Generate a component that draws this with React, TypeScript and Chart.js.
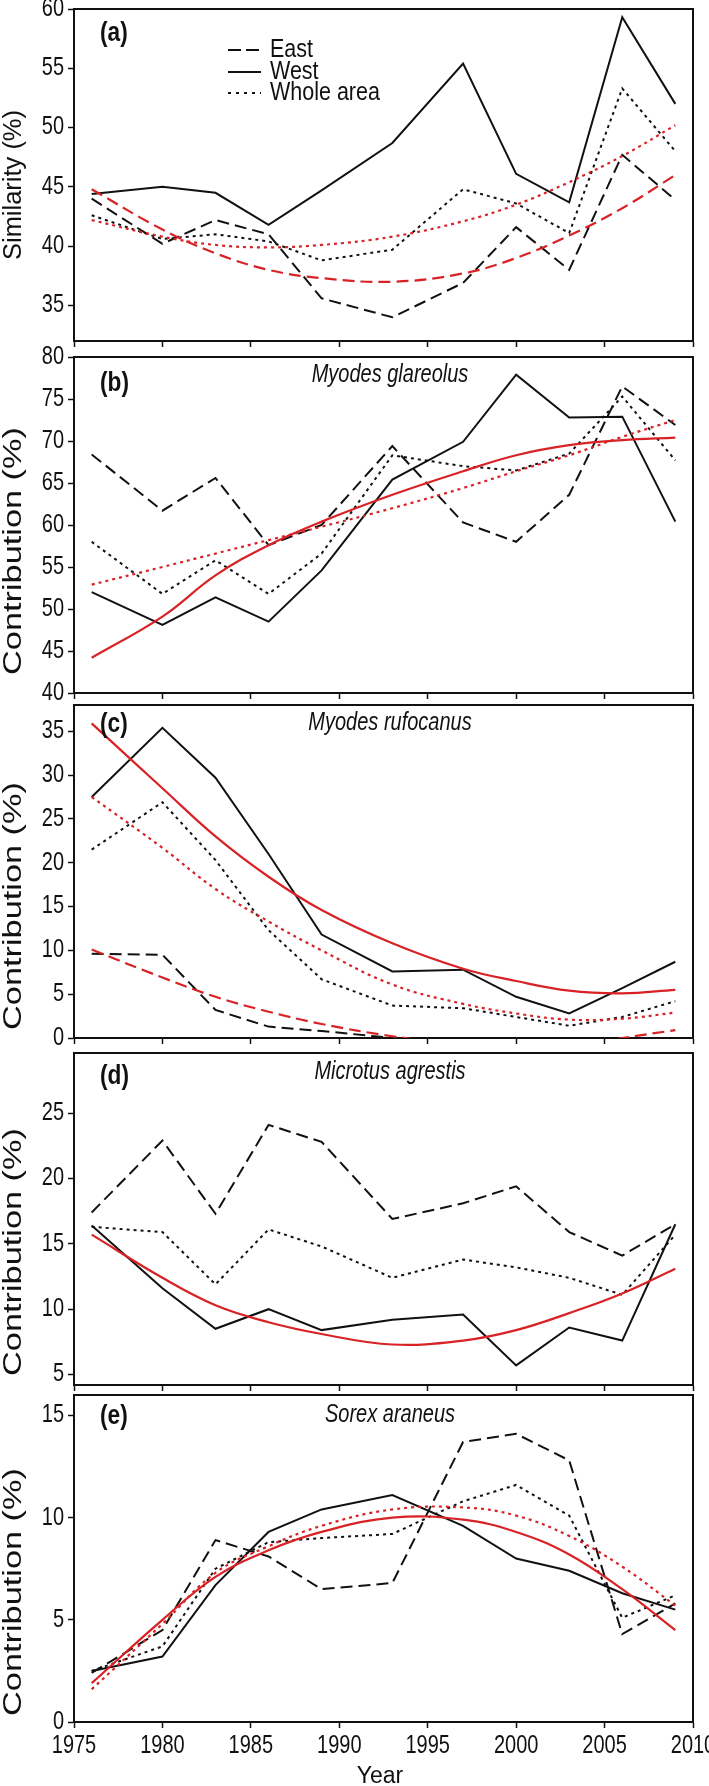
import React, { useEffect, useRef } from 'react';
import { Chart, registerables } from 'chart.js';

Chart.register(...registerables);

const FONT = '"Liberation Sans", Arial, Helvetica, sans-serif';
const BLACK = '#111111';
const RED = 'rgb(216,34,38)';
const NARROW_X = 0.8; // horizontal squeeze to imitate a narrow (condensed) face

// ---------- data ----------
const years = [1976, 1980, 1983, 1986, 1989, 1993, 1997, 2000, 2003, 2006, 2009];
const xTicks = [1975, 1980, 1985, 1990, 1995, 2000, 2005, 2010];

// (a) Similarity
const aEast = [44.0, 40.2, 42.2, 41.0, 35.6, 34.0, 36.9, 41.6, 38.0, 47.7, 43.9];
const aWest = [44.4, 45.0, 44.5, 41.8, 44.7, 48.7, 55.4, 46.1, 43.7, 59.3, 52.0];
const aWhole = [42.6, 40.6, 41.0, 40.4, 38.8, 39.7, 44.8, 43.6, 41.1, 53.3, 48.0];
const aEastFit = [44.8, 41.4, 39.4, 38.0, 37.3, 37.0, 37.7, 39.0, 40.9, 43.2, 46.0];
const aWholeFit = [42.2, 40.8, 40.1, 39.9, 40.1, 40.8, 42.1, 43.5, 45.4, 47.6, 50.2];
const aTicks = [35, 40, 45, 50, 55, 60];

// (b) Myodes glareolus
const bEast = [68.4, 61.7, 65.6, 57.6, 60.0, 69.4, 60.3, 58.0, 63.6, 76.5, 71.9];
const bWest = [52.0, 48.1, 51.4, 48.5, 54.6, 65.4, 69.9, 77.9, 72.8, 72.9, 60.4];
const bWhole = [58.0, 51.8, 55.8, 51.8, 56.6, 68.3, 67.0, 66.5, 68.5, 75.3, 67.7];
const bWestFit = [44.2, 49.1, 54.0, 57.6, 60.4, 63.6, 66.4, 68.3, 69.5, 70.1, 70.4];
const bWholeFit = [52.9, 55.0, 56.6, 58.2, 59.8, 62.0, 64.4, 66.4, 68.3, 70.5, 72.5];
const bTicks = [40, 45, 50, 55, 60, 65, 70, 75, 80];

// (c) Myodes rufocanus
const cEast = [9.6, 9.5, 3.2, 1.3, 0.8, 0, 0, 0, 0, 0, 0];
const cWest = [27.5, 35.4, 29.7, 21.0, 11.8, 7.6, 7.8, 4.7, 2.8, 5.7, 8.7];
const cWhole = [21.5, 26.9, 20.3, 12.3, 6.7, 3.7, 3.4, 2.4, 1.4, 2.4, 4.2];
const cEastFit = [10.1, 6.9, 4.7, 3.0, 1.6, 0.2, -0.8, -1.2, -1.0, 0.0, 0.9];
const cWestFit = [35.9, 28.5, 23.0, 18.4, 14.6, 10.8, 7.9, 6.5, 5.4, 5.1, 5.5];
const cWholeFit = [27.5, 21.7, 17.0, 13.3, 10.0, 6.1, 3.9, 2.8, 2.1, 2.2, 2.9];
const cTicks = [0, 5, 10, 15, 20, 25, 30, 35];

// (d) Microtus agrestis
const dEast = [17.4, 22.9, 17.3, 24.1, 22.8, 16.9, 18.1, 19.4, 15.9, 14.1, 16.5];
const dWest = [16.4, 11.6, 8.5, 10.0, 8.4, 9.2, 9.6, 5.7, 8.6, 7.6, 16.5];
const dWhole = [16.3, 15.9, 11.9, 16.1, 14.8, 12.4, 13.8, 13.2, 12.4, 11.1, 15.7];
const dWestFit = [15.7, 12.4, 10.3, 9.0, 8.1, 7.3, 7.6, 8.4, 9.7, 11.2, 13.1];
const dTicks = [5, 10, 15, 20, 25];

// (e) Sorex araneus
const eEast = [2.4, 4.5, 8.9, 8.1, 6.5, 6.8, 13.7, 14.1, 12.8, 4.3, 5.8];
const eWest = [2.5, 3.2, 6.7, 9.3, 10.4, 11.1, 9.6, 8.0, 7.4, 6.3, 5.5];
const eWhole = [2.5, 3.7, 7.5, 8.8, 9.0, 9.2, 10.8, 11.6, 10.1, 5.1, 6.2];
const eWestFit = [1.9, 5.0, 7.1, 8.4, 9.3, 10.0, 9.9, 9.3, 8.2, 6.5, 4.5];
const eWholeFit = [1.6, 4.8, 7.3, 8.6, 9.6, 10.4, 10.5, 10.1, 9.1, 7.6, 5.7];
const eTicks = [0, 5, 10, 15];

const legendLabels = ['East', 'West', 'Whole area'];

// ---------- styling / layout ----------
type LineStyle = 'solid' | 'dashed' | 'dotted';
const DASH: Record<LineStyle, number[]> = { solid: [], dashed: [12, 6], dotted: [3, 4] };

interface SeriesDef { values: number[]; color: string; style: LineStyle; fit: boolean; }
interface PanelDef {
  letter: string; species: string; yTitle: string; titleLen: number; titleY: number;
  letterY: number; speciesY: number; top: number; bottom: number;
  yMin: number; yMax: number; yTicks: number[]; series: SeriesDef[]; legend?: boolean;
}

const W = 709;
const AX_LEFT = 74;
const AX_RIGHT = 693;
const TICK_LEN = 6;

const S = (values: number[], style: LineStyle, fit = false): SeriesDef => ({
  values, style, fit, color: fit ? RED : BLACK,
});

const panels: PanelDef[] = [
  {
    letter: '(a)', species: '', yTitle: 'Similarity (%)', titleLen: 150, titleY: 185,
    letterY: 34, speciesY: 0, top: 9, bottom: 341, yMin: 32, yMax: 60, yTicks: aTicks, legend: true,
    series: [S(aEastFit, 'dashed', true), S(aWholeFit, 'dotted', true), S(aEast, 'dashed'), S(aWest, 'solid'), S(aWhole, 'dotted')],
  },
  {
    letter: '(b)', species: 'Myodes glareolus', yTitle: 'Contribution (%)', titleLen: 248, titleY: 551,
    letterY: 384, speciesY: 375, top: 357, bottom: 693, yMin: 40, yMax: 80, yTicks: bTicks,
    series: [S(bWestFit, 'solid', true), S(bWholeFit, 'dotted', true), S(bEast, 'dashed'), S(bWest, 'solid'), S(bWhole, 'dotted')],
  },
  {
    letter: '(c)', species: 'Myodes rufocanus', yTitle: 'Contribution (%)', titleLen: 248, titleY: 906,
    letterY: 725, speciesY: 723, top: 705, bottom: 1038, yMin: 0, yMax: 38, yTicks: cTicks,
    series: [S(cWestFit, 'solid', true), S(cWholeFit, 'dotted', true), S(cEastFit, 'dashed', true), S(cEast, 'dashed'), S(cWest, 'solid'), S(cWhole, 'dotted')],
  },
  {
    letter: '(d)', species: 'Microtus agrestis', yTitle: 'Contribution (%)', titleLen: 248, titleY: 1252,
    letterY: 1077, speciesY: 1072, top: 1053, bottom: 1385, yMin: 4.2, yMax: 29.6, yTicks: dTicks,
    series: [S(dWestFit, 'solid', true), S(dEast, 'dashed'), S(dWest, 'solid'), S(dWhole, 'dotted')],
  },
  {
    letter: '(e)', species: 'Sorex araneus', yTitle: 'Contribution (%)', titleLen: 248, titleY: 1592,
    letterY: 1417, speciesY: 1415, top: 1395, bottom: 1722, yMin: 0, yMax: 16, yTicks: eTicks,
    series: [S(eWestFit, 'solid', true), S(eWholeFit, 'dotted', true), S(eEast, 'dashed'), S(eWest, 'solid'), S(eWhole, 'dotted')],
  },
];

const PAGE_H = 1786;

function drawText(
  ctx: CanvasRenderingContext2D, text: string, x: number, y: number,
  font: string, align: CanvasTextAlign, sx: number,
) {
  ctx.save();
  ctx.translate(x, y);
  ctx.scale(sx, 1);
  ctx.font = font;
  ctx.textAlign = align;
  ctx.textBaseline = 'middle';
  ctx.fillText(text, 0, 0);
  ctx.restore();
}

function Panel({ def, isLast }: { def: PanelDef; isLast: boolean }) {
  const ref = useRef<HTMLCanvasElement>(null);
  const padTop = Math.min(12, def.top);
  const canvasTop = def.top - padTop;
  const extra = isLast ? PAGE_H - def.bottom : 12;
  const h = padTop + (def.bottom - def.top) + extra;

  useEffect(() => {
    const canvas = ref.current!;
    const deco = {
      id: 'deco',
      afterDatasetsDraw(chart: any) {
        const { ctx, chartArea: ca } = chart;
        const xs = chart.scales.x;
        const ys = chart.scales.y;
        ctx.save();
        ctx.strokeStyle = BLACK;
        ctx.lineWidth = 2;
        ctx.setLineDash([]);
        ctx.beginPath();
        ctx.moveTo(ca.left, ca.top);
        ctx.lineTo(ca.right, ca.top);
        ctx.lineTo(ca.right, ca.bottom);
        ctx.stroke();

        ctx.fillStyle = BLACK;
        const tickFont = `25px ${FONT}`;
        // y tick labels, placed by the chart's y scale
        def.yTicks.forEach((v) => {
          drawText(ctx, String(v), ca.left - TICK_LEN - 4, ys.getPixelForValue(v), tickFont, 'right', NARROW_X);
        });
        // x tick labels (bottom panel only), placed by the chart's x scale
        if (isLast) {
          xTicks.forEach((v) => {
            drawText(ctx, String(v), xs.getPixelForValue(v), ca.bottom + 24, tickFont, 'center', NARROW_X);
          });
          drawText(ctx, 'Year', 380, 1777 - canvasTop, `23px ${FONT}`, 'center', 1);
        }
        // panel letter
        drawText(ctx, def.letter, 100, def.letterY - canvasTop, `bold 27px ${FONT}`, 'left', 0.84);
        // species
        if (def.species) {
          drawText(ctx, def.species, 390, def.speciesY - canvasTop, `italic 25px ${FONT}`, 'center', 0.8);
        }
        // legend
        if (def.legend) {
          const rows = [50, 72, 93];
          const styles: LineStyle[] = ['dashed', 'solid', 'dotted'];
          rows.forEach((ry, i) => {
            const y = ry - canvasTop;
            ctx.beginPath();
            ctx.setLineDash(styles[i] === 'dashed' ? [13, 5] : styles[i] === 'dotted' ? [3, 5] : []);
            ctx.lineWidth = 2;
            ctx.moveTo(228, y);
            ctx.lineTo(261, y);
            ctx.stroke();
            ctx.setLineDash([]);
            drawText(ctx, legendLabels[i], 270, y, `25px ${FONT}`, 'left', 0.86);
          });
        }
        // y title
        ctx.save();
        ctx.translate(14, def.titleY - canvasTop);
        ctx.rotate(-Math.PI / 2);
        ctx.font = `25px ${FONT}`;
        const w = ctx.measureText(def.yTitle).width;
        ctx.scale(def.titleLen / w, 1);
        ctx.textAlign = 'center';
        ctx.textBaseline = 'middle';
        ctx.fillText(def.yTitle, 0, 0);
        ctx.restore();
        ctx.restore();
      },
    };

    const datasets = def.series.map((s) => ({
      data: years.map((x, i) => ({ x, y: s.values[i] })),
      borderColor: s.color,
      backgroundColor: s.color,
      borderWidth: s.fit ? 2.2 : 2,
      borderDash: DASH[s.style],
      pointRadius: 0,
      fill: false,
      tension: s.fit ? 0.4 : 0,
    }));

    const chart = new Chart(canvas, {
      type: 'line',
      data: { datasets },
      options: {
        responsive: false,
        animation: false,
        devicePixelRatio: 1,
        layout: { padding: { top: padTop, left: 0, right: W - AX_RIGHT, bottom: 0 } },
        plugins: { legend: { display: false }, tooltip: { enabled: false } },
        scales: {
          x: {
            type: 'linear',
            min: 1975,
            max: 2010,
            afterBuildTicks: (s: any) => { s.ticks = xTicks.map((v) => ({ value: v })); },
            ticks: { display: false, autoSkip: false, maxRotation: 0 },
            grid: { display: true, drawOnChartArea: false, drawTicks: true, tickLength: TICK_LEN, tickWidth: 1.5, color: BLACK },
            border: { display: true, color: BLACK, width: 2 },
            afterFit: (s: any) => { s.height = extra; s.paddingLeft = 0; s.paddingRight = 0; },
          },
          y: {
            type: 'linear',
            min: def.yMin,
            max: def.yMax,
            afterBuildTicks: (s: any) => { s.ticks = def.yTicks.map((v) => ({ value: v })); },
            ticks: { display: false },
            grid: { display: true, drawOnChartArea: false, drawTicks: true, tickLength: TICK_LEN, tickWidth: 1.5, color: BLACK },
            border: { display: true, color: BLACK, width: 2 },
            afterFit: (s: any) => { s.width = AX_LEFT; s.paddingTop = 0; s.paddingBottom = 0; },
          },
        },
      },
      plugins: [deco],
    } as any);
    return () => chart.destroy();
  }, []);

  return (
    <canvas
      ref={ref}
      width={W}
      height={h}
      style={{ position: 'absolute', left: 0, top: canvasTop, width: W, height: h }}
    />
  );
}

export default function App() {
  return (
    <div style={{ position: 'absolute', left: 0, top: 0, width: W, height: PAGE_H, background: '#fff', overflow: 'hidden' }}>
      {panels.map((p, i) => (
        <Panel key={p.letter} def={p} isLast={i === panels.length - 1} />
      ))}
    </div>
  );
}
